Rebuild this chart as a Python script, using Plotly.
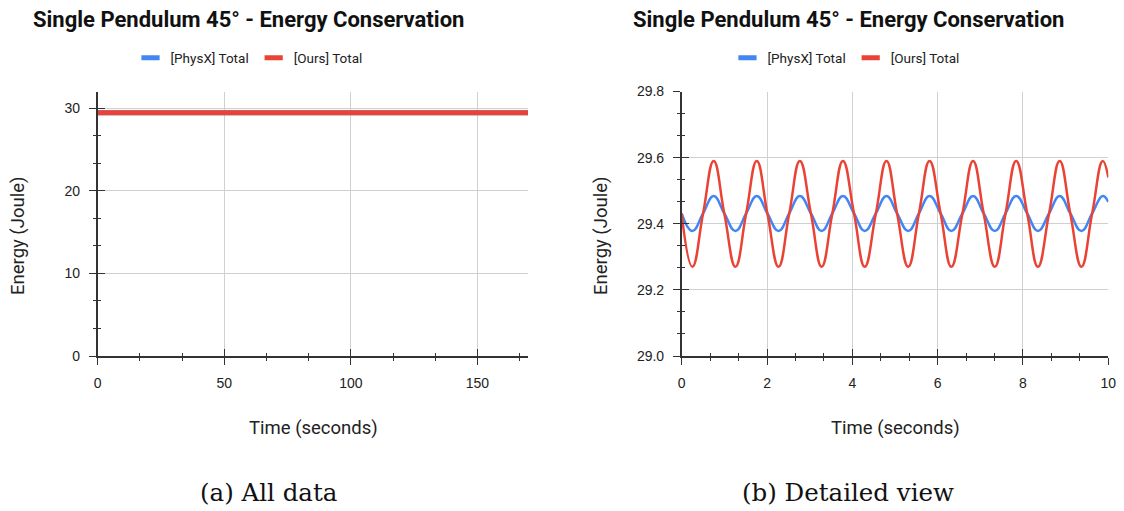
import plotly.graph_objects as go

# ---------------- data ----------------
# (a) all data, read at the resolution of the full-range view (0-170 s)
t_all = [0, 10, 20, 30, 40, 50, 60, 70, 80, 90, 100, 110, 120, 130, 140, 150, 160, 170]
physx_all = [29.43, 29.43, 29.43, 29.43, 29.43, 29.43, 29.43, 29.43, 29.43,
             29.43, 29.43, 29.43, 29.43, 29.43, 29.43, 29.43, 29.43, 29.43]
ours_all = [29.43, 29.43, 29.43, 29.43, 29.43, 29.43, 29.43, 29.43, 29.43,
            29.43, 29.43, 29.43, 29.43, 29.43, 29.43, 29.43, 29.43, 29.43]

# (b) detailed view (0-10 s): crossings, troughs and peaks
t_detail = [0.00, 0.25, 0.50, 0.75, 1.00, 1.26, 1.51, 1.76, 2.01, 2.27, 2.52,
            2.77, 3.03, 3.28, 3.53, 3.78, 4.04, 4.29, 4.55, 4.80, 5.05, 5.31,
            5.56, 5.81, 6.07, 6.32, 6.58, 6.83, 7.08, 7.34, 7.59, 7.84, 8.10,
            8.35, 8.61, 8.86, 9.11, 9.37, 9.62, 9.87, 10.00]
physx_detail = [29.431,
                29.378, 29.431, 29.484, 29.431,
                29.378, 29.431, 29.484, 29.431,
                29.378, 29.431, 29.484, 29.431,
                29.378, 29.431, 29.484, 29.431,
                29.378, 29.431, 29.484, 29.431,
                29.378, 29.431, 29.484, 29.431,
                29.378, 29.431, 29.484, 29.431,
                29.378, 29.431, 29.484, 29.431,
                29.378, 29.431, 29.484, 29.431,
                29.378, 29.431, 29.484, 29.466]
ours_detail = [29.43,
               29.27, 29.43, 29.59, 29.43,
               29.27, 29.43, 29.59, 29.43,
               29.27, 29.43, 29.59, 29.43,
               29.27, 29.43, 29.59, 29.43,
               29.27, 29.43, 29.59, 29.43,
               29.27, 29.43, 29.59, 29.43,
               29.27, 29.43, 29.59, 29.43,
               29.27, 29.43, 29.59, 29.43,
               29.27, 29.43, 29.59, 29.43,
               29.27, 29.43, 29.59, 29.54]

series_names = ["[PhysX] Total", "[Ours] Total"]
titles = ["Single Pendulum 45° - Energy Conservation",
          "Single Pendulum 45° - Energy Conservation"]
captions = ["(a) All data", "(b) Detailed view"]
x_title = "Time (seconds)"
y_title = "Energy (Joule)"

left_x_ticks = [0, 50, 100, 150]
left_y_ticks = [0, 10, 20, 30]
right_x_ticks = [0, 2, 4, 6, 8, 10]
right_y_ticks = [29.0, 29.2, 29.4, 29.6, 29.8]

# ---------------- style ----------------
BLUE = "#4285F4"
RED = "#EA4335"
AX = "#333333"
GRID = "#d0d0d0"
W, H = 1124, 511

def px_x(p):
    return p / W

def px_y(p):
    return 1 - p / H

left_dom = [px_x(97.7), px_x(528)]
right_dom = [px_x(681.7), px_x(1108.3)]
y_dom = [px_y(356), px_y(91.5)]

fig = go.Figure()

# data traces
fig.add_trace(go.Scatter(x=t_all, y=physx_all, mode="lines", name=series_names[0],
                         line=dict(color=BLUE, width=5), legendgroup="physx",
                         showlegend=False, xaxis="x", yaxis="y"))
fig.add_trace(go.Scatter(x=t_all, y=ours_all, mode="lines", name=series_names[1],
                         line=dict(color=RED, width=5), legendgroup="ours",
                         showlegend=False, xaxis="x", yaxis="y"))
fig.add_trace(go.Scatter(x=t_detail, y=physx_detail, mode="lines", name=series_names[0],
                         line=dict(color=BLUE, width=2.5, shape="spline", smoothing=1.3),
                         legendgroup="physx", showlegend=False, xaxis="x2", yaxis="y2"))
fig.add_trace(go.Scatter(x=t_detail, y=ours_detail, mode="lines", name=series_names[1],
                         line=dict(color=RED, width=2.5, shape="spline", smoothing=1.3),
                         legendgroup="ours", showlegend=False, xaxis="x2", yaxis="y2"))

# legend entries (short thick swatches), placed on the overlay axes
for xa, ya, lg in (("x3", "y3", "legend"), ("x4", "y4", "legend2")):
    for nm, col, grp in ((series_names[0], BLUE, "physx"), (series_names[1], RED, "ours")):
        fig.add_trace(go.Scatter(x=[None], y=[None], mode="markers", name=nm,
                                 marker=dict(symbol="line-ew", size=13,
                                             line=dict(color=col, width=5)),
                                 legendgroup=grp, legend=lg, hoverinfo="skip",
                                 xaxis=xa, yaxis=ya))

tickfont = dict(family="Liberation Sans, Arial, sans-serif", size=14, color="#222222")

def main_axis(dom, rng, tickvals, minor_dtick, anchor, fmt=None):
    d = dict(domain=dom, range=rng, tickmode="array", tickvals=tickvals,
             showgrid=True, gridcolor=GRID, gridwidth=1, zeroline=False,
             showline=True, linecolor=AX, linewidth=1.5,
             ticks="outside", ticklen=7, tickwidth=1.3, tickcolor=AX,
             ticklabelstandoff=6, tickfont=tickfont, anchor=anchor, automargin=False,
             minor=dict(tickmode="linear", tick0=rng[0], dtick=minor_dtick,
                        ticks="outside", ticklen=3, tickwidth=1.3, tickcolor=AX,
                        showgrid=False),
             fixedrange=True)
    if fmt:
        d["tickformat"] = fmt
    return d

def overlay_axis(dom, rng, tickvals, minor_dtick, over, anchor):
    return dict(domain=dom, range=rng, tickmode="array", tickvals=tickvals,
                overlaying=over, anchor=anchor, showgrid=False, zeroline=False,
                showline=False, showticklabels=False, automargin=False,
                ticks="inside", ticklen=7, tickwidth=1.3, tickcolor=AX,
                minor=dict(tickmode="linear", tick0=rng[0], dtick=minor_dtick,
                           ticks="inside", ticklen=3, tickwidth=1.3, tickcolor=AX,
                           showgrid=False),
                fixedrange=True)

legend_font = dict(family="Roboto, sans-serif", size=13.5, color="#222222")

fig.update_layout(
    width=W, height=H,
    margin=dict(l=0, r=0, t=0, b=0, pad=0, autoexpand=False),
    paper_bgcolor="white", plot_bgcolor="white",
    font=dict(family="Roboto, sans-serif", color="#222222"),
    xaxis=main_axis(left_dom, [0, 170], left_x_ticks, 50 / 3, "y"),
    yaxis=main_axis(y_dom, [0, 32], left_y_ticks, 10 / 3, "x"),
    xaxis2=main_axis(right_dom, [0, 10], right_x_ticks, 2 / 3, "y2"),
    yaxis2=main_axis(y_dom, [29.0, 29.8], right_y_ticks, 0.2 / 3, "x2", fmt=".1f"),
    xaxis3=overlay_axis(left_dom, [0, 170], left_x_ticks, 50 / 3, "x", "y3"),
    yaxis3=overlay_axis(y_dom, [0, 32], left_y_ticks, 10 / 3, "y", "x3"),
    xaxis4=overlay_axis(right_dom, [0, 10], right_x_ticks, 2 / 3, "x2", "y4"),
    yaxis4=overlay_axis(y_dom, [29.0, 29.8], right_y_ticks, 0.2 / 3, "y2", "x4"),
    legend=dict(orientation="h", x=px_x(249), y=px_y(58), xanchor="center", yanchor="middle",
                font=legend_font, bgcolor="rgba(0,0,0,0)",
                itemclick=False, itemdoubleclick=False),
    legend2=dict(orientation="h", x=px_x(846), y=px_y(58), xanchor="center", yanchor="middle",
                 font=legend_font, bgcolor="rgba(0,0,0,0)",
                 itemclick=False, itemdoubleclick=False),
    showlegend=True,
)

ann = []
# chart titles
for cx, txt in ((248, titles[0]), (848, titles[1])):
    ann.append(dict(text=f"<b>{txt}</b>", x=px_x(cx), y=px_y(19), xref="paper", yref="paper",
                    xanchor="center", yanchor="middle", showarrow=False,
                    font=dict(family="Roboto, sans-serif", size=22, color="#111111")))
# axis titles
for cx in (313, 895):
    ann.append(dict(text=x_title, x=px_x(cx), y=px_y(428), xref="paper", yref="paper",
                    xanchor="center", yanchor="middle", showarrow=False,
                    font=dict(family="Roboto, sans-serif", size=18.5, color="#222222")))
for cx in (18, 601):
    ann.append(dict(text=y_title, x=px_x(cx), y=px_y(236), xref="paper", yref="paper",
                    xanchor="center", yanchor="middle", showarrow=False, textangle=-90,
                    font=dict(family="Roboto, sans-serif", size=18.5, color="#222222")))
# sub-figure captions
for cx, txt in ((268, captions[0]), (848, captions[1])):
    ann.append(dict(text=txt, x=px_x(cx), y=px_y(492), xref="paper", yref="paper",
                    xanchor="center", yanchor="middle", showarrow=False,
                    font=dict(family="DejaVu Serif, serif", size=24.5, color="#111111")))
fig.update_layout(annotations=ann)

fig.write_html("out.html", config={"displayModeBar": False},
               post_script="document.body.style.margin='0';document.body.style.padding='0';"
                           "document.documentElement.style.overflow='hidden';")
